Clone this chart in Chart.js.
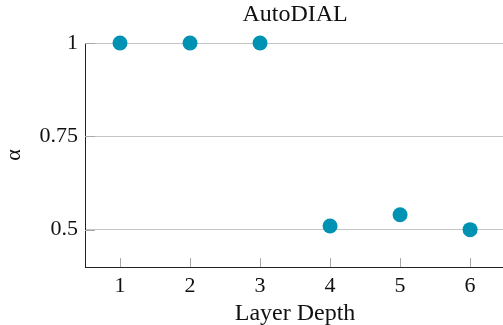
<!DOCTYPE html>
<html>
<head>
<meta charset="utf-8">
<script src="https://cdn.jsdelivr.net/npm/chart.js@4/dist/chart.umd.min.js"></script>
<style>
  html, body { margin: 0; padding: 0; background: #fff; overflow: hidden; }
</style>
</head>
<body>
<canvas id="chart" width="503" height="325"></canvas>
<script>
const layers = [1, 2, 3, 4, 5, 6];
const alphaValues = [1, 1, 1, 0.51, 0.54, 0.5];
const yTicks = [0.5, 0.75, 1];
const xTicks = [1, 2, 3, 4, 5, 6];
const chartTitle = "AutoDIAL";
const xLabel = "Layer Depth";
const yLabel = "α";

const FONT = "'Liberation Serif', 'Times New Roman', serif";
const pointColor = "rgb(0, 146, 178)";

// the axis runs 0.5..6.5 but the picture is cut just short of the right end
const xMin = 0.5;
const xMax = 6.47;
const fullRight = 6.5;

// pgfplots style: ticks pointing into the plot, titles centred over the full axis
const axisExtras = {
  id: "axisExtras",
  afterDatasetsDraw(chart) {
    const { ctx, chartArea, scales } = chart;
    ctx.save();
    ctx.strokeStyle = "#a8a8a8";
    ctx.lineWidth = 1;
    ctx.beginPath();
    xTicks.forEach((v) => {
      const x = Math.round(scales.x.getPixelForValue(v)) + 0.5;
      ctx.moveTo(x, chartArea.bottom);
      ctx.lineTo(x, chartArea.bottom - 9);
    });
    yTicks.forEach((v) => {
      const y = Math.round(scales.y.getPixelForValue(v)) + 0.5;
      ctx.moveTo(chartArea.left, y);
      ctx.lineTo(chartArea.left + 10, y);
    });
    ctx.stroke();

    const mid = (chartArea.left + scales.x.getPixelForValue(fullRight)) / 2;
    ctx.fillStyle = "#111";
    ctx.font = "24px " + FONT;
    ctx.textAlign = "center";
    ctx.textBaseline = "middle";
    ctx.fillText(chartTitle, mid, 15);
    ctx.fillText(xLabel, mid, 314);
    ctx.restore();
  },
};

const ctx = document.getElementById("chart").getContext("2d");
new Chart(ctx, {
  type: "scatter",
  data: {
    datasets: [
      {
        data: layers.map((l, i) => ({ x: l, y: alphaValues[i] })),
        backgroundColor: pointColor,
        borderWidth: 0,
        pointRadius: 7.5,
        pointHoverRadius: 7.5,
        clip: false,
      },
    ],
  },
  options: {
    responsive: false,
    animation: false,
    layout: {
      autoPadding: false,
      padding: { top: 43, right: 0, bottom: 0, left: 0 },
    },
    plugins: {
      legend: { display: false },
      tooltip: { enabled: false },
      title: { display: false },
    },
    scales: {
      x: {
        type: "linear",
        min: xMin,
        max: xMax,
        afterBuildTicks: (scale) => {
          scale.ticks = xTicks.map((v) => ({ value: v }));
        },
        afterFit: (scale) => {
          scale.height = 58;
          scale.paddingLeft = 0;
          scale.paddingRight = 0;
        },
        grid: { display: false, drawTicks: false },
        border: { display: true, color: "#222", width: 1 },
        ticks: {
          color: "#111",
          padding: 6,
          font: { family: FONT, size: 22 },
        },
        title: { display: false },
      },
      y: {
        type: "linear",
        min: 0.4,
        max: 1,
        afterBuildTicks: (scale) => {
          scale.ticks = yTicks.map((v) => ({ value: v }));
        },
        afterFit: (scale) => {
          scale.width = 85;
          scale.paddingTop = 0;
          scale.paddingBottom = 0;
        },
        grid: { color: "#c4c4c4", drawTicks: false, lineWidth: 1 },
        border: { display: true, color: "#222", width: 1 },
        ticks: {
          color: "#111",
          padding: 7,
          font: { family: FONT, size: 22 },
          callback: (v) => String(v),
        },
        title: {
          display: true,
          text: yLabel,
          color: "#111",
          font: { family: FONT, size: 22, lineHeight: 1 },
          padding: { top: 3, bottom: 0 },
        },
      },
    },
  },
  plugins: [axisExtras],
});
</script>
</body>
</html>
